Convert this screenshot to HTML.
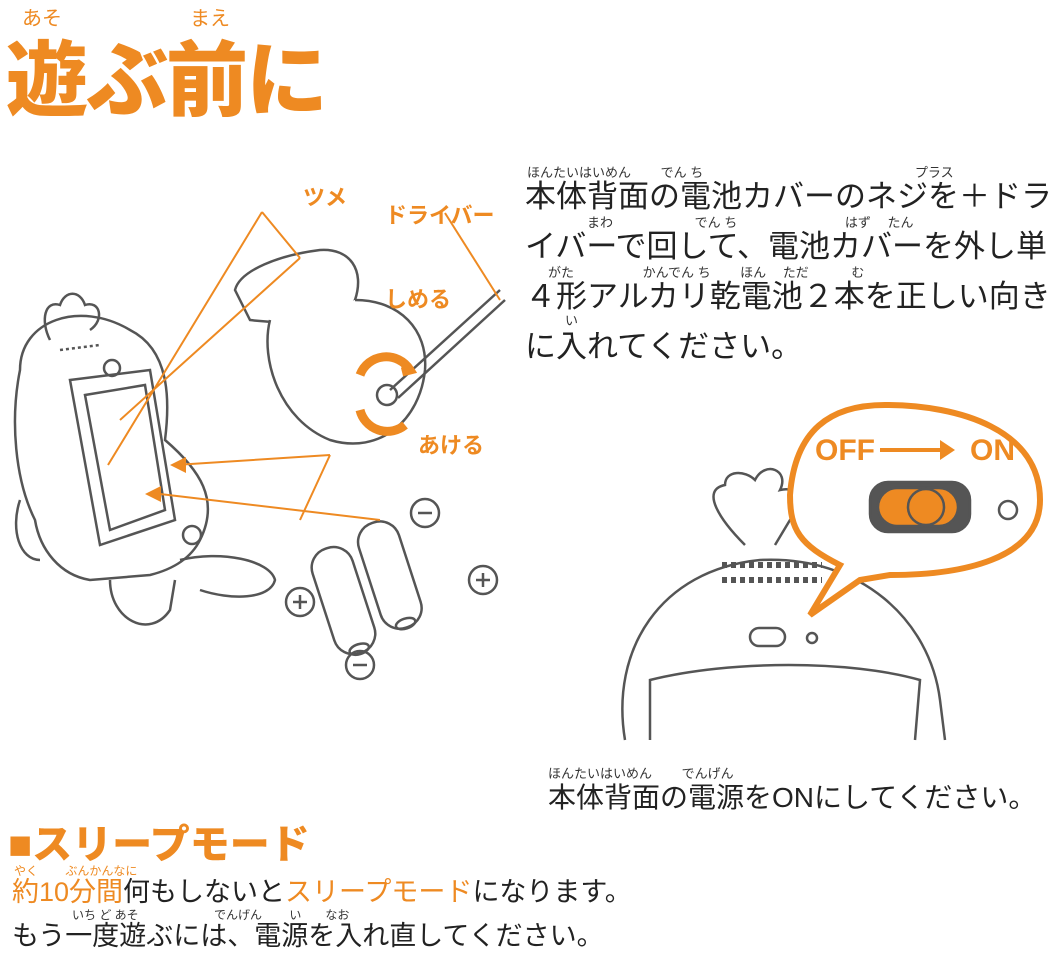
<!DOCTYPE html>
<html><head><meta charset="utf-8"><style>
body{margin:0;width:1055px;height:951px;background:#fff;position:relative;overflow:hidden;font-family:"Liberation Sans","Noto Sans CJK JP",sans-serif;color:#222}
.a{position:absolute;white-space:nowrap}
.o{color:#ee8a22}
.r{font-size:13px;color:#333}
.ro{font-size:13px;color:#ee8a22}
</style></head><body>
<div class="a ro" style="left:22px;top:2px;font-size:20px">あそ</div>
<div class="a ro" style="left:190px;top:2px;font-size:20px">まえ</div>
<div class="a o" style="left:6px;top:14px;font-size:82px;font-weight:900;letter-spacing:-2px">遊ぶ前に</div>

<svg class="a" style="left:0;top:0" width="1055" height="800" viewBox="0 0 1055 800">
<g fill="none" stroke="#555" stroke-width="2.5">
<path d="M20 370 C20 320 80 300 130 330 C170 350 170 400 165 440 C200 470 220 500 200 540 C190 560 170 570 150 575 L90 580 C60 575 40 550 35 520 C15 480 10 420 20 370Z" fill="#fff"/>
<path d="M50 340 C40 320 45 300 60 305 C65 290 80 290 85 305 C100 300 105 320 90 330"/>
<path d="M70 380 L150 370 L175 520 L100 545Z" fill="#fff"/>
<path d="M85 395 L145 385 L165 510 L110 530Z"/>
<path d="M60 350 L100 345" stroke-dasharray="3 3"/>
<circle cx="112" cy="368" r="8"/>
<circle cx="192" cy="535" r="9"/>
<path d="M110 580 C110 620 150 640 170 610 L175 580"/>
<path d="M180 560 C220 550 270 560 275 580 C270 600 230 600 200 590"/>
<path d="M20 500 C10 530 20 560 40 560"/>
<path d="M235 290 C240 270 280 255 320 250 C350 248 365 270 355 300 C340 320 290 325 250 320 Z" fill="#fff"/>
<path d="M270 320 C260 360 280 420 330 440 C380 455 420 420 425 370 C428 330 400 300 355 300" fill="#fff"/>
<circle cx="387" cy="395" r="10"/>
<path d="M390 390 L500 290 M398 398 L505 300"/>
<g transform="rotate(-18 360 590)">
<rect x="320" y="540" width="42" height="110" rx="20" fill="#fff"/>
<rect x="372" y="530" width="42" height="110" rx="20" fill="#fff"/>
<ellipse cx="341" cy="646" rx="10" ry="5"/><ellipse cx="393" cy="636" rx="10" ry="5"/>
</g>
<circle cx="425" cy="513" r="14"/><circle cx="483" cy="580" r="14"/><circle cx="300" cy="602" r="14"/><circle cx="360" cy="665" r="14"/>
<path d="M418 513h14M476 580h14M483 573v14M293 602h14M300 595v14M353 665h14"/>
<path d="M625 740 C610 650 660 570 760 560 C860 555 930 620 940 700 L945 740" fill="#fff"/>
<path d="M650 740 L650 680 C730 660 850 660 920 680 L915 740"/>
<path d="M745 545 C720 520 700 490 725 485 C725 470 745 470 755 480 C765 460 790 470 780 490 C800 485 810 505 790 520 L775 545"/>
<path d="M722 565h100M722 580h100" stroke-dasharray="5 4" stroke-width="6"/>
<rect x="750" y="628" width="35" height="18" rx="9"/>
<circle cx="812" cy="638" r="5"/>
<path d="M885 405 C960 405 1040 430 1040 500 C1040 560 960 575 890 575 L860 580 L810 615 L840 565 C800 545 790 530 790 495 C795 430 830 405 885 405Z" fill="#fff" stroke="#ee8a22" stroke-width="6"/>
<rect x="870" y="482" width="100" height="50" rx="18" fill="#555"/>
<rect x="878" y="488" width="80" height="38" rx="19" fill="#ee8a22"/>
<circle cx="926" cy="507" r="18" fill="#ee8a22"/>
<circle cx="1008" cy="510" r="9"/>
</g>
<g stroke="#ee8a22" stroke-width="2" fill="none">
<path d="M262 212 L300 258 M262 212 L108 465 M300 258 L120 420"/>
<path d="M445 213 L500 300"/>
<path d="M330 455 L175 465 M330 455 L300 520 M380 520 L160 494"/>
</g>
<g fill="#ee8a22">
<path d="M170 465 L186 457 L186 473Z"/><path d="M145 494 L161 486 L161 502Z"/>
<path d="M360 375 A28 28 0 0 1 410 370 L402 372 M360 410 A28 28 0 0 0 405 425" stroke="#ee8a22" stroke-width="9" fill="none"/>
<path d="M880 448 L940 448 L940 440 L955 450 L940 460 L940 452 L880 452Z"/>
</g>
<text x="815" y="460" font-size="30" font-weight="bold" fill="#ee8a22" font-family="Liberation Sans">OFF</text>
<text x="970" y="460" font-size="30" font-weight="bold" fill="#ee8a22" font-family="Liberation Sans">ON</text>
</svg>
<div class="a o" style="left:303px;top:180px;font-size:22px;font-weight:bold">ツメ</div>
<div class="a o" style="left:385px;top:198px;font-size:22px;font-weight:bold">ドライバー</div>
<div class="a o" style="left:385px;top:282px;font-size:22px;font-weight:bold">しめる</div>
<div class="a o" style="left:418px;top:428px;font-size:22px;font-weight:bold">あける</div>

<div class="a r" style="left:527px;top:162px">ほんたいはいめん　　 でん ち　　　　　　　　　　　　　　　　 プラス</div>
<div class="a" style="left:525px;top:172px;font-size:31px;line-height:50px">本体背面の電池カバーのネジを＋ドラ<br>イバーで回して、電池カバーを外し単<br>４形アルカリ乾電池２本を正しい向き<br>に入れてください。</div>
<div class="a r" style="left:587px;top:212px">まわ　　　　　　 でん ち　　　　　　　　 はず　 たん</div>
<div class="a r" style="left:548px;top:262px">がた　　　　　 かんでん ち　　 ほん　 ただ　　　 む</div>
<div class="a r" style="left:565px;top:310px">い</div>

<div class="a r" style="left:548px;top:763px">ほんたいはいめん　　 でんげん</div>
<div class="a" style="left:548px;top:776px;font-size:28px">本体背面の電源をONにしてください。</div>

<div class="a o" style="left:8px;top:812px;font-size:40px;font-weight:900">■スリープモード</div>
<div class="a ro" style="left:14px;top:862px;font-size:12px">やく　　 ぶんかんなに</div>
<div class="a" style="left:12px;top:870px;font-size:27px"><span class="o">約10分間</span>何もしないと<span class="o">スリープモード</span>になります。</div>
<div class="a r" style="left:72px;top:906px;font-size:12px">いち ど あそ　　　　　　 でんげん　　 い　　なお</div>
<div class="a" style="left:12px;top:914px;font-size:27px">もう一度遊ぶには、電源を入れ直してください。</div>
</body></html>
